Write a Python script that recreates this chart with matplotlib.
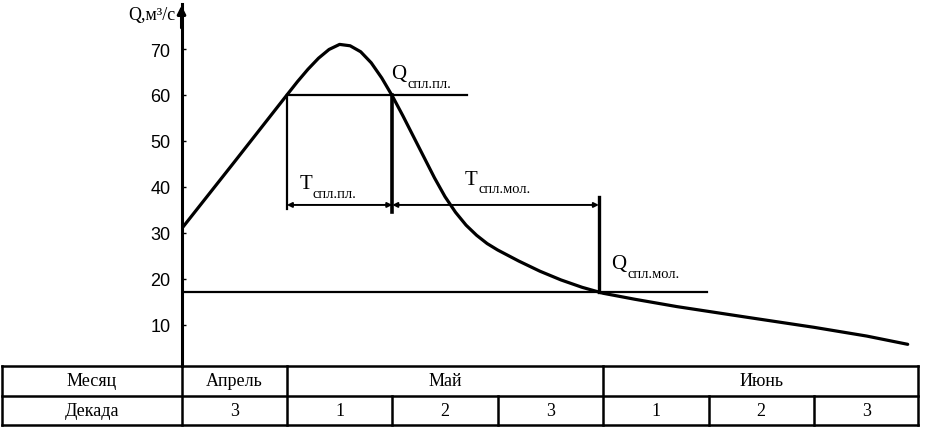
import matplotlib
matplotlib.use("Agg")
import matplotlib.pyplot as plt
from matplotlib import font_manager

# ---------------- data ----------------
# x in decades counted from the start of the 3rd decade of April
decade_x = [0.0, 0.5, 1.0, 1.1, 1.2, 1.3, 1.4, 1.5, 1.6, 1.7, 1.8, 1.9, 2.0,
            2.1, 2.2, 2.3, 2.4, 2.5, 2.6, 2.7, 2.8, 2.9, 3.0, 3.2, 3.4, 3.6,
            3.8, 4.0, 4.3, 4.7, 5.36, 6.0, 6.5, 6.89]
discharge_q = [30.9, 45.4, 60.0, 62.9, 65.6, 68.0, 69.9, 71.0, 70.7, 69.4, 67.0, 63.7, 59.8,
               55.5, 51.0, 46.5, 42.0, 37.9, 34.5, 31.7, 29.5, 27.7, 26.3, 23.9, 21.7, 19.8,
               18.2, 16.9, 15.6, 14.0, 11.7, 9.5, 7.6, 5.8]

q_raft = 60.0          # Q спл.пл.
q_mol = 17.2           # Q спл.мол.
t_raft = (1.0, 2.0)    # T спл.пл.
t_mol = (2.0, 3.96)    # T спл.мол.
t_level = 36.1
y_ticks = [10, 20, 30, 40, 50, 60, 70]

row_headers = ["Месяц", "Декада"]
months = ["Апрель", "Май", "Июнь"]
month_spans = [(0, 1), (1, 4), (4, 7)]
decades = ["3", "1", "2", "3", "1", "2", "3"]

# ---------------- fonts ----------------
names = {f.name for f in font_manager.fontManager.ttflist}
tick_font = "Liberation Sans Narrow" if "Liberation Sans Narrow" in names else "Liberation Sans"
serif = "Liberation Serif"

W, H = 925, 431
fig = plt.figure(figsize=(W / 100, H / 100), dpi=100)

px_per_dec = 105.4
px_per_q = 4.6
q0_px = 372.0
x0_px = 181.5

# ---------------- main chart ----------------
top_px, bot_px = 5, 367
ax = fig.add_axes([x0_px / W, (H - bot_px) / H, 1 - x0_px / W, (bot_px - top_px) / H])
ax.set_xlim(0, (W - x0_px) / px_per_dec)
ax.set_ylim((q0_px - bot_px) / px_per_q, (q0_px - top_px) / px_per_q)
for s in ["top", "right", "bottom"]:
    ax.spines[s].set_visible(False)
ax.spines["left"].set_linewidth(2.2)
ax.set_xticks([])
ax.set_yticks(y_ticks)
ax.set_yticklabels([str(v) for v in y_ticks], fontfamily=tick_font, fontsize=13)
ax.tick_params(axis="y", direction="in", length=3, width=1, pad=8)
ax.patch.set_alpha(0)

# arrow on y axis
ax.annotate("", xy=(0, ax.get_ylim()[1] + 0.3), xytext=(0, 74),
            arrowprops=dict(arrowstyle="-|>", lw=2.2, color="black", mutation_scale=12),
            annotation_clip=False)
ax.text(-0.06, 77.6, "Q,м³/с", ha="right", va="center", fontfamily=serif, fontsize=13)

# hydrograph
ax.plot(decade_x, discharge_q, color="black", lw=2.3, solid_joinstyle="round",
        solid_capstyle="round")

# horizontal levels
ax.plot([t_raft[0], 2.71], [q_raft, q_raft], color="black", lw=1.6)
ax.plot([0, 4.99], [q_mol, q_mol], color="black", lw=1.6)

# verticals
ax.plot([t_raft[0], t_raft[0]], [q_raft, 35.2], color="black", lw=1.6)
ax.plot([t_raft[1], t_raft[1]], [q_raft, 34.6], color="black", lw=2.6)
ax.plot([t_mol[1], t_mol[1]], [37.8, q_mol], color="black", lw=2.4)

# duration arrows
arrow_kw = dict(arrowstyle="<|-|>", lw=1.4, color="black", mutation_scale=7,
                shrinkA=0, shrinkB=0)
ax.annotate("", xy=(t_raft[1], t_level), xytext=(t_raft[0], t_level), arrowprops=arrow_kw)
ax.annotate("", xy=(t_mol[1], t_level), xytext=(t_mol[0], t_level), arrowprops=arrow_kw)


# labels: main letter + subscript
def sub_label(x, y, main, sub):
    t = ax.text(x, y, main, fontfamily=serif, fontsize=15, ha="left", va="center")
    ax.annotate(sub, xy=(1.0, 0.12), xycoords=t, xytext=(0.5, -4),
                textcoords="offset points", fontfamily=serif, fontsize=10.5,
                ha="left", va="baseline")


sub_label(1.99, 64.6, "Q", "спл.пл.")
sub_label(1.12, 40.7, "T", "спл.пл.")
sub_label(2.69, 41.7, "T", "спл.мол.")
sub_label(4.08, 23.3, "Q", "спл.мол.")

# ---------------- table ----------------
tb_top, tb_bot = 367, 426
tx = fig.add_axes([0, (H - tb_bot) / H, 1, (tb_bot - tb_top) / H])
tx.set_xlim(-x0_px / px_per_dec, (W - x0_px) / px_per_dec)
tx.set_ylim(0, 2)
tx.axis("off")
left_edge, right_edge = -1.70, 6.99
lw_t = 1.8
for yy in (0, 1, 2):
    tx.plot([left_edge, right_edge], [yy, yy], color="black", lw=lw_t, clip_on=False)
for xx in (left_edge, 0, 1, 4, right_edge):
    tx.plot([xx, xx], [0, 2], color="black", lw=lw_t, clip_on=False)
for xx in (2, 3, 5, 6):
    tx.plot([xx, xx], [0, 1], color="black", lw=lw_t, clip_on=False)

tfont = dict(fontfamily=serif, fontsize=13, ha="center", va="center")
tx.text((left_edge + 0) / 2, 1.5, row_headers[0], **tfont)
tx.text((left_edge + 0) / 2, 0.5, row_headers[1], **tfont)
for m, (a, b) in zip(months, month_spans):
    tx.text((a + b) / 2, 1.5, m, **tfont)
for i, d in enumerate(decades):
    tx.text(i + 0.5, 0.5, d, **tfont)

fig.savefig("out.png", dpi=100)
